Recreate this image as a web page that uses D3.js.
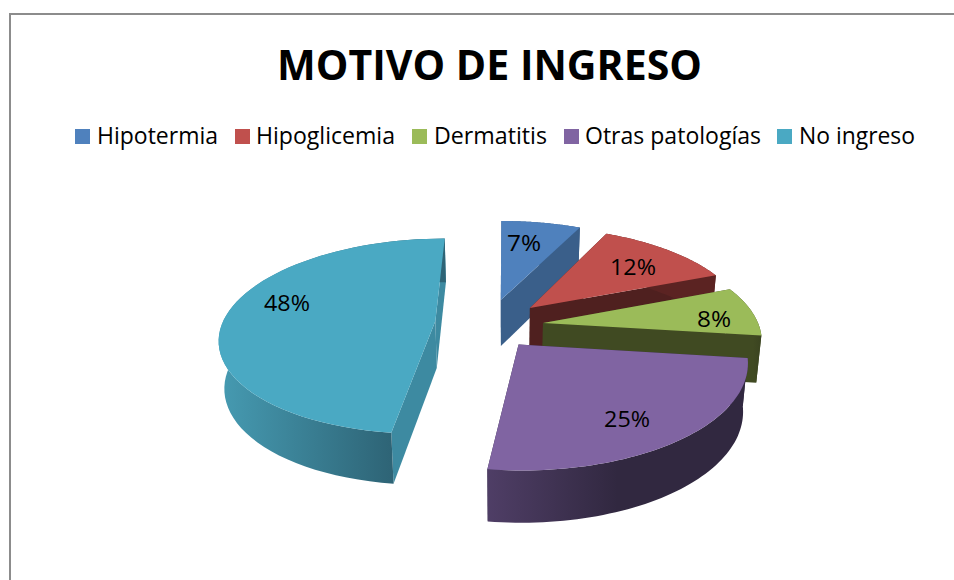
<!DOCTYPE html>
<html><head><meta charset="utf-8">
<script src="https://cdn.jsdelivr.net/npm/d3@7"></script>
<style>html,body{margin:0;padding:0;background:#fff}svg{display:block}text{font-family:"Open Sans","Noto Sans",sans-serif;fill:#000;font-variant-ligatures:none}</style>
</head><body><svg id="c" width="954" height="580"></svg>
<script>
const title = "MOTIVO DE INGRESO";
const categories = ["Hipotermia","Hipoglicemia","Dermatitis","Otras patologías","No ingreso"];
const values = [7,12,8,25,48];
const topColors = ["#4f81bd","#c0504d","#9bbb59","#8064a2","#4aa9c3"];
const sideColors = ["#3a5f8a","#4f201f","#404a22","#332a44","#3d8aa1"];
const wallStops = [["#3a5f8a","#3a5f8a"],["#5b2322","#5b2322"],["#404a22","#3a4320"],["#4f3e66","#312840"],["#469bb2","#2e6476"]];
const explode = [[-.02,-.263],[.117,-.177],[.174,-.02],[.06,.19],[-.32,-.04]];
const sliceRadius = [1,1,.985,1,.975];
const labelAt = [[.1,-.953],[.645,-.647],[.964,-.061],[.484,.825],[-1.032,-.23]];
const legendSwatchX = [75,235,412,564,777], legendTextX = [97,256,434,585,799], legendTextW = [121,139,113,176,116];
const paintOrder = [0,1,2,4,3];

const svg = d3.select("#c");
const cx=505, cy=325, A=99, B=219, k=.16, D=47, wallShrink=.98;
const w = p => 1 - k*p[1];
const proj = p => [cx + B*p[0]/w(p), cy + A*p[1]/w(p)];
const low = p => { const q=proj(p); return [cx+(q[0]-cx)*wallShrink, q[1]+D/Math.sqrt(w(p))]; };
const ground = (o,a,r) => [o[0]+r*Math.sin(a), o[1]-r*Math.cos(a)];
const line = d3.line();

svg.append("path").attr("d","M10,580V14H954").attr("fill","none").attr("stroke","#8c8c8c").attr("stroke-width",2);

const arcs = d3.pie().sort(null).startAngle(0).endAngle(2*Math.PI)(values);
const defs = svg.append("defs");

paintOrder.forEach(i=>{
  const s=arcs[i], o=explode[i];
  const as=d3.range(0,61).map(t=>s.startAngle+(s.endAngle-s.startAngle)*t/60);
  const rim=as.map(a=>ground(o,a,sliceRadius[i]));
  const xs=rim.filter(p=>p[1]>o[1]-.1).map(p=>proj(p)[0]);
  const g=defs.append("linearGradient").attr("id","w"+i).attr("gradientUnits","userSpaceOnUse")
    .attr("x1",d3.min(xs)).attr("x2",d3.max(xs)).attr("y1",0).attr("y2",0);
  g.append("stop").attr("offset",0).attr("stop-color",wallStops[i][0]);
  g.append("stop").attr("offset",i===3?.5:1).attr("stop-color",wallStops[i][1]);
  [rim[0],rim[60]].forEach(r=>{
    svg.append("path").attr("d",line([proj(o),proj(r),low(r),low(o)])+"Z").attr("fill",sideColors[i]);
  });
  svg.append("path").attr("d",line(rim.map(proj).concat(rim.slice().reverse().map(low)))+"Z")
    .attr("fill",`url(#w${i})`);
  svg.append("path").attr("d",line([proj(o)].concat(rim.map(proj)))+"Z").attr("fill",topColors[i]);
});

labelAt.forEach((p,i)=>{
  const q=proj(p);
  svg.append("text").attr("x",q[0]).attr("y",q[1]).attr("dy","0.35em").attr("text-anchor","middle")
    .attr("textLength",values[i]<10?34:46).attr("lengthAdjust","spacingAndGlyphs")
    .style("font-size","22px").text(values[i]+"%");
});

svg.append("text").attr("x",277).attr("y",80).attr("textLength",425).attr("lengthAdjust","spacingAndGlyphs")
  .style("font-size","42px").style("font-weight","700").text(title);

categories.forEach((c,i)=>{
  svg.append("rect").attr("x",legendSwatchX[i]).attr("y",129).attr("width",15).attr("height",15).attr("fill",topColors[i]);
  svg.append("text").attr("x",legendTextX[i]).attr("y",144).attr("textLength",legendTextW[i]).attr("lengthAdjust","spacingAndGlyphs")
    .style("font-size","23px").text(c);
});
</script></body></html>
